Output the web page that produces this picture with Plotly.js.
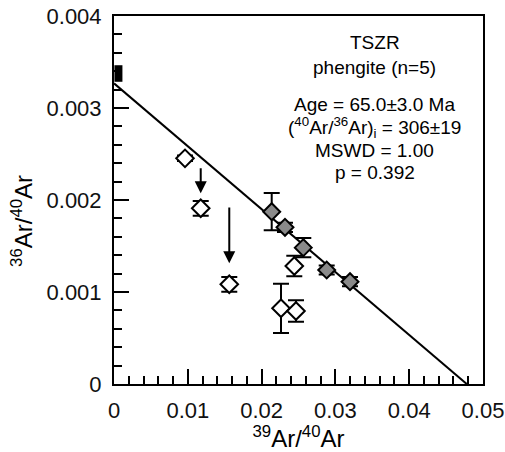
<!DOCTYPE html>
<html>
<head>
<meta charset="utf-8">
<script src="https://cdn.plot.ly/plotly-3.0.1.min.js"></script>
<style>html,body{margin:0;padding:0;background:#fff;}#chart{width:505px;height:452px;}</style>
</head>
<body>
<div id="chart"></div>
<script>
// Plateau steps used in the isochron (filled diamonds)
const filledX = [0.02137, 0.02317, 0.02565, 0.02882, 0.03198];
const filledY = [0.001873, 0.001703, 0.001482, 0.001239, 0.001112];
const filledErr = [0.000203, 0.00005, 0.000105, 0.00005, 0.00005];

// Excluded steps (open diamonds)
const openX = [0.00962, 0.01175, 0.01562, 0.02443, 0.02263, 0.02466];
const openY = [0.002453, 0.00191, 0.001084, 0.001283, 0.000823, 0.000793];
const openErr = [0.00003, 0.00008, 0.00008, 0.000112, 0.000268, 0.000116];

// Arrows (x, tail y, tip y)
const arrowX = [0.01175, 0.01562];
const arrowTailY = [0.002362, 0.001935];
const arrowTipY = [0.002073, 0.001312];

// Isochron fit: y-intercept = 1/306, x-intercept
const fitYIntercept = 1 / 306;
const fitXIntercept = 0.0478;

// Atmospheric ratio marker on the y axis
const atmX = 0.0006;
const atmY = [0.003285, 0.003465];

// Text block
const textLines = ["TSZR", "phengite (n=5)", "Age = 65.0±3.0 Ma",
  "(<sup>40</sup>Ar/<sup>36</sup>Ar)<sub>i</sub> = 306±19", "MSWD = 1.00", "p = 0.392"];
const textY = [0.003707, 0.003435, 0.003033, 0.002783, 0.002543, 0.002304];
const textX = 0.0353;

// Axis titles
const xTitle = "<sup>39</sup>Ar/<sup>40</sup>Ar";
const yTitle = "<sup>36</sup>Ar/<sup>40</sup>Ar";
const yTitleCenter = 0.00177;

const font = "Liberation Sans, Arial, Helvetica, sans-serif";

const traces = [
  {
    x: [0, fitXIntercept], y: [fitYIntercept, 0],
    mode: "lines", line: {color: "#000", width: 2}, hoverinfo: "skip", showlegend: false
  },
  {
    x: [atmX, atmX], y: atmY,
    mode: "lines", line: {color: "#000", width: 8}, hoverinfo: "skip", showlegend: false, cliponaxis: false
  },
  {
    x: openX, y: openY, mode: "markers", showlegend: false,
    error_y: {type: "data", array: openErr, visible: true, color: "#000", thickness: 2, width: 8},
    marker: {symbol: "diamond", size: 13.5, color: "#fff", line: {color: "#000", width: 2}}
  },
  {
    x: filledX, y: filledY, mode: "markers", showlegend: false,
    error_y: {type: "data", array: filledErr, visible: true, color: "#000", thickness: 2, width: 8},
    marker: {symbol: "diamond", size: 13, color: "#8a8a8a", line: {color: "#000", width: 2}}
  }
];

const annotations = textLines.map((t, i) => ({
  x: textX, y: textY[i], xref: "x", yref: "y", text: t, showarrow: false,
  xanchor: "center", yanchor: "middle", font: {family: font, size: 19, color: "#000"}
}));
arrowX.forEach((ax, i) => {
  annotations.push({
    x: ax, y: arrowTipY[i], ax: ax, ay: arrowTailY[i], xref: "x", yref: "y", axref: "x", ayref: "y",
    text: "", showarrow: true, arrowhead: 2, arrowsize: 1.2, arrowwidth: 2, arrowcolor: "#000", standoff: 0
  });
});
// y-axis title, placed where the reference draws it (slightly below the axis centre)
annotations.push({
  x: -0.25, y: yTitleCenter, xref: "paper", yref: "y", text: yTitle, textangle: -90,
  showarrow: false, xanchor: "center", yanchor: "middle",
  font: {family: font, size: 24, color: "#000"}
});

const layout = {
  width: 505, height: 452,
  margin: {l: 114, r: 22, t: 16, b: 68},
  paper_bgcolor: "#fff", plot_bgcolor: "#fff",
  font: {family: font, color: "#000"},
  showlegend: false,
  xaxis: {
    range: [0, 0.05], dtick: 0.01, tick0: 0,
    showgrid: false, zeroline: false, showline: true, linecolor: "#000", linewidth: 2, mirror: true,
    ticks: "inside", ticklen: 15, tickwidth: 2, tickcolor: "#000",
    minor: {ticks: "inside", ticklen: 8, tickwidth: 2, tickcolor: "#000", dtick: 0.002, showgrid: false},
    tickfont: {family: font, size: 22, color: "#111"},
    ticklabelstandoff: 6,
    title: {text: xTitle, font: {family: font, size: 24, color: "#000"}, standoff: 8}
  },
  yaxis: {
    range: [0, 0.004], dtick: 0.001, tick0: 0,
    showgrid: false, zeroline: false, showline: true, linecolor: "#000", linewidth: 2, mirror: true,
    ticks: "inside", ticklen: 15, tickwidth: 2, tickcolor: "#000",
    minor: {ticks: "inside", ticklen: 8, tickwidth: 2, tickcolor: "#000", dtick: 0.0002, showgrid: false},
    tickfont: {family: font, size: 22, color: "#111"},
    ticklabelstandoff: 6
  },
  annotations: annotations
};

Plotly.newPlot("chart", traces, layout, {staticPlot: true, displayModeBar: false});
</script>
</body>
</html>
